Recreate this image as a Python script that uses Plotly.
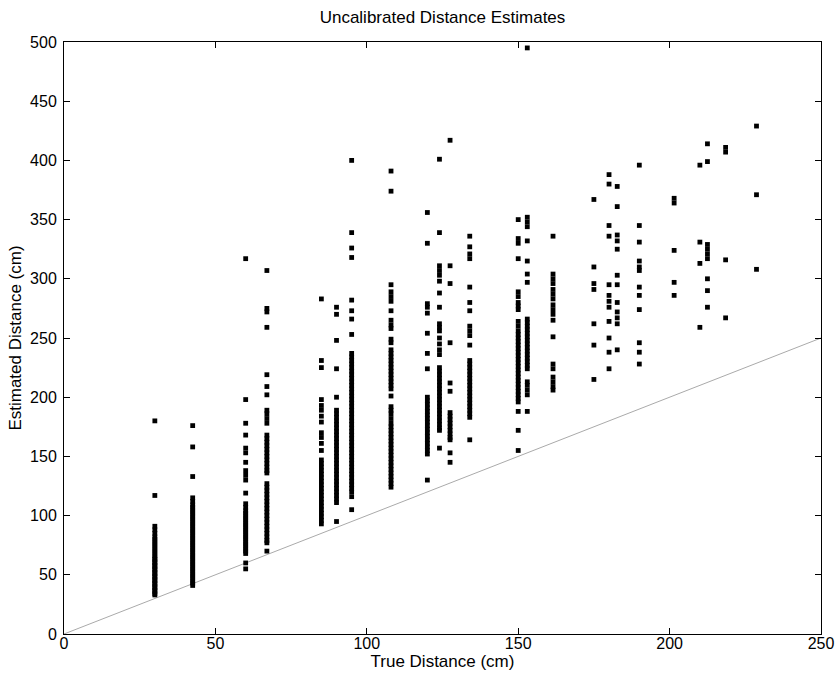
import plotly.graph_objects as go

# True distances (cm) of each measurement column
true_distances = [30, 42.5, 60, 67, 85, 90, 95, 108, 120, 124, 127.5, 134,
                  150, 153, 161.5, 175, 180, 182.7, 190, 201.5, 210, 212.5, 218.5, 228.7]

# Estimated distances (cm) per column
est_30 = [180, 117, 91, 88, 85, 82, 80, 78, 76, 74, 72, 70, 68, 66, 64, 63, 61, 60, 58, 57,
          55, 54, 52, 51, 49, 48, 46, 45, 43, 42, 40, 39, 37, 36, 34, 33]
est_42 = [176, 158, 133, 115, 112, 109, 107, 105, 103, 101, 99, 97, 95, 93, 91, 89, 87, 85,
          83, 81, 79, 77, 75, 73, 71, 69, 67, 65, 63, 61, 59, 57, 55, 53, 51, 49, 47, 45, 43, 41]
est_60 = [317, 198, 178, 168, 157, 153, 145, 138, 134, 130, 119, 110, 107, 104, 102, 100, 98,
          96, 94, 92, 90, 88, 86, 84, 82, 80, 78, 76, 74, 72, 70, 68, 60, 55]
est_67 = [307, 275, 272, 259, 219, 209, 202, 189, 186, 182, 178, 168, 165, 162, 159, 156, 153,
          150, 147, 144, 141, 138, 136, 127, 124, 121, 118, 115, 112, 109, 106, 103, 100, 97,
          94, 91, 88, 85, 82, 79, 77, 70]
est_85 = [283, 231, 225, 198, 193, 189, 184, 179, 170, 166, 161, 155, 147, 144, 141, 138, 135,
          132, 129, 126, 123, 120, 117, 114, 111, 108, 105, 102, 99, 96, 93]
est_90 = [276, 270, 248, 224, 200, 189, 186, 183, 180, 177, 174, 171, 168, 165, 162, 159, 156,
          153, 150, 147, 144, 141, 138, 135, 132, 129, 126, 123, 120, 117, 114, 111, 95]
est_95 = [400, 339, 326, 318, 282, 273, 266, 253, 237, 234, 231, 228, 225, 222, 219, 216, 213,
          210, 207, 204, 201, 198, 195, 192, 189, 186, 183, 180, 177, 174, 171, 168, 165, 162,
          159, 156, 153, 150, 147, 144, 141, 138, 135, 132, 129, 126, 123, 120, 116, 105]
est_108 = [391, 374, 295, 289, 285, 281, 273, 265, 261, 258, 249, 246, 240, 237, 234, 231, 228,
           225, 222, 219, 216, 213, 210, 207, 201, 192, 189, 186, 182, 178, 175, 172, 169, 166,
           163, 160, 157, 154, 151, 148, 145, 142, 139, 136, 133, 130, 127, 124]
est_120 = [356, 330, 279, 276, 271, 254, 237, 224, 200, 197, 194, 191, 188, 185, 182, 179, 176,
           173, 170, 167, 164, 161, 158, 155, 152, 130]
est_124 = [401, 339, 311, 307, 303, 298, 288, 276, 262, 259, 256, 250, 245, 240, 236, 225, 222,
           219, 216, 213, 210, 207, 204, 201, 198, 195, 192, 189, 186, 183, 180, 177, 174, 172, 157]
est_127 = [417, 311, 296, 246, 212, 205, 187, 184, 181, 178, 175, 172, 169, 166, 164, 153, 145]
est_134 = [336, 327, 321, 317, 293, 280, 273, 260, 256, 252, 244, 231, 228, 225, 222, 219, 216,
           213, 210, 207, 204, 201, 198, 195, 192, 189, 186, 183, 164]
est_150 = [350, 334, 330, 317, 289, 285, 280, 277, 274, 264, 260, 256, 253, 250, 247, 244, 241,
           238, 235, 232, 229, 226, 223, 220, 217, 214, 211, 208, 205, 202, 199, 196, 188, 172, 155]
est_153 = [495, 352, 348, 344, 332, 315, 304, 297, 266, 263, 260, 257, 254, 251, 248, 245, 242,
           239, 236, 233, 230, 227, 224, 213, 210, 206, 202, 188]
est_161 = [336, 304, 300, 296, 291, 287, 283, 278, 274, 270, 265, 251, 228, 224, 217, 213, 209, 206]
est_175 = [367, 310, 296, 291, 262, 244, 215]
est_180 = [388, 380, 345, 336, 295, 286, 281, 276, 264, 250, 238, 224]
est_182 = [378, 361, 337, 332, 325, 303, 295, 280, 272, 267, 262, 240]
est_190 = [396, 345, 331, 315, 310, 307, 293, 286, 274, 246, 238, 228]
est_201 = [368, 364, 324, 297, 286]
est_210 = [396, 331, 313, 259]
est_212 = [414, 399, 329, 325, 321, 317, 300, 290, 276]
est_218 = [411, 407, 316, 267]
est_228 = [429, 371, 308]

estimates = [est_30, est_42, est_60, est_67, est_85, est_90, est_95, est_108, est_120,
             est_124, est_127, est_134, est_150, est_153, est_161, est_175, est_180,
             est_182, est_190, est_201, est_210, est_212, est_218, est_228]

# Ideal (calibrated) reference line y = x
ideal_x = [0, 250]
ideal_y = [0, 250]

xs, ys = [], []
for d, col in zip(true_distances, estimates):
    xs.extend([d] * len(col))
    ys.extend(col)

FONT = "Liberation Sans, Arial, Helvetica, sans-serif"
W, H = 836, 679

fig = go.Figure()
fig.add_trace(go.Scatter(x=ideal_x, y=ideal_y, mode="lines",
                         line=dict(color="#aaaaaa", width=1), showlegend=False,
                         hoverinfo="skip"))
fig.add_trace(go.Scatter(x=xs, y=ys, mode="markers",
                         marker=dict(color="black", size=4.8, symbol="square",
                                     line=dict(width=0)),
                         showlegend=False))

axis_common = dict(showgrid=False, zeroline=False, showline=True, linecolor="black",
                   linewidth=1, mirror="ticks", ticks="inside", ticklen=6,
                   tickcolor="black", tickwidth=1, dtick=50,
                   tickfont=dict(family=FONT, size=16, color="black"))

fig.update_layout(
    width=W, height=H,
    paper_bgcolor="white", plot_bgcolor="white",
    margin=dict(l=64, r=15, t=42, b=45, autoexpand=False),
    title=dict(text="Uncalibrated Distance Estimates", x=(64 + W - 15) / 2 / W,
               xanchor="center", y=1 - 17 / H, yanchor="middle", yref="container",
               font=dict(family=FONT, size=17, color="black")),
    xaxis=dict(range=[0, 250], ticklabelstandoff=-5,
               title=dict(text="True Distance (cm)",
                          font=dict(family=FONT, size=17, color="black"), standoff=0),
               **axis_common),
    yaxis=dict(range=[0, 500], ticklabelstandoff=3,
               title=dict(text="Estimated Distance (cm)",
                          font=dict(family=FONT, size=17, color="black"), standoff=4),
               **axis_common),
)

fig.write_html(
    "out.html",
    config={"displayModeBar": False},
    post_script="document.body.style.margin='0px';"
                "document.body.style.overflow='hidden';",
)
